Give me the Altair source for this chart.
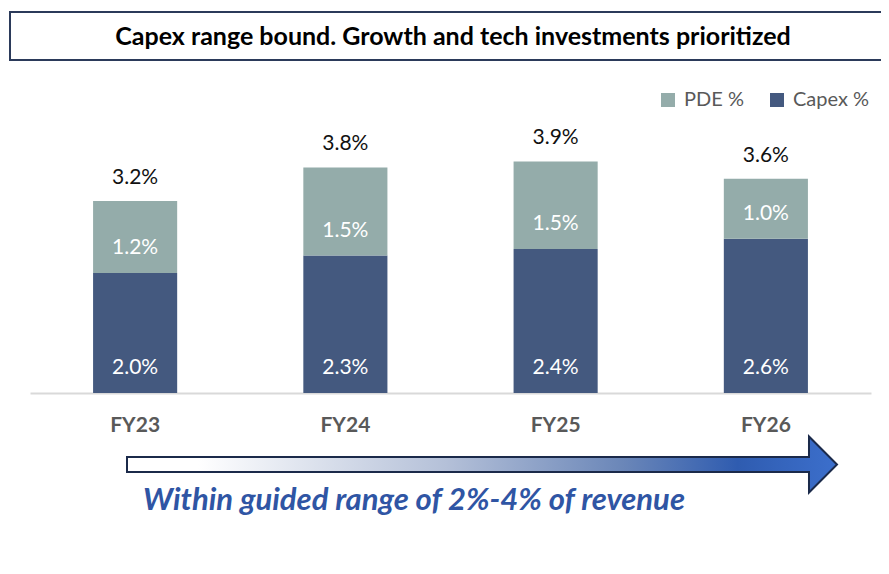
import altair as alt
import pandas as pd

years = ["FY23", "FY24", "FY25", "FY26"]
capex = [2.0, 2.29, 2.4, 2.57]
pde = [1.2, 1.47, 1.46, 1.0]
series = ["PDE %", "Capex %"]
colors = ["#94ACAA", "#44597F"]
title_text = "Capex range bound. Growth and tech investments prioritized"
arrow_text = "Within guided range of 2%-4% of revenue"

rows = []
for yr, c, p in zip(years, capex, pde):
    rows.append({"year": yr, "series": "Capex %", "base": 0.0, "top": c, "value": c})
    rows.append({"year": yr, "series": "PDE %", "base": c, "top": c + p, "value": p})
seg = pd.DataFrame(rows)
seg["label"] = seg["value"].map(lambda v: f"{v:.1f}%")
tot = pd.DataFrame({"year": years, "total": [c + p for c, p in zip(capex, pde)]})
tot["label"] = tot["total"].map(lambda v: f"{v:.1f}%")

FONT = "Lato"
W, H = 841, 300

x = alt.X(
    "year:N",
    sort=years,
    scale=alt.Scale(paddingInner=0.6, paddingOuter=0.3),
    axis=alt.Axis(
        title=None, ticks=False, domainColor="#D9D9D9", domainWidth=2,
        labelFont=FONT, labelFontSize=21, labelFontWeight="bold",
        labelColor="#595959", labelPadding=21, labelAngle=0,
    ),
)
yscale = alt.Scale(domain=[0, 5], nice=False)

bars = alt.Chart(seg).mark_bar().encode(
    x=x,
    y=alt.Y("base:Q", scale=yscale, axis=None),
    y2="top:Q",
    color=alt.Color(
        "series:N",
        scale=alt.Scale(domain=series, range=colors),
        legend=alt.Legend(
            title=None, orient="none", legendX=628, legendY=-3,
            direction="horizontal", symbolType="square", symbolSize=196,
            symbolStrokeWidth=0, labelFont=FONT, labelFontSize=20,
            labelColor="#595959", labelOffset=6, columnPadding=23,
        ),
    ),
)

seg_text = alt.Chart(seg).mark_text(
    color="white", baseline="middle", dy=-25, fontSize=21, font=FONT
).encode(x=x, y=alt.Y("base:Q", scale=yscale, axis=None), text="label:N")

tot_text = alt.Chart(tot).mark_text(
    color="#111111", baseline="middle", dy=-23, fontSize=21, font=FONT
).encode(x=x, y=alt.Y("total:Q", scale=yscale, axis=None), text="label:N")

tdf = pd.DataFrame({"t": [title_text]})
title_box = alt.Chart(tdf).mark_rect(
    fill="white", stroke="#2B3A5A", strokeWidth=2
).encode(x=alt.value(-20), x2=alt.value(854), y=alt.value(-81), y2=alt.value(-33))
title_txt = alt.Chart(tdf).mark_text(
    fontWeight="bold", fontSize=25, font=FONT, color="#000000", baseline="middle"
).encode(x=alt.value(423), y=alt.value(-56), text="t:N")

arrow_path = ("M -1 -0.0211 L 0.9211 -0.0211 L 0.9211 -0.0789 L 1 0 "
              "L 0.9211 0.0789 L 0.9211 0.0211 L -1 0.0211 Z")
grad = {
    "gradient": "linear", "x1": 0, "y1": 0, "x2": 1, "y2": 0,
    "stops": [
        {"offset": 0, "color": "#FFFFFF"},
        {"offset": 0.1, "color": "#FFFFFF"},
        {"offset": 0.45, "color": "#B4C0D8"},
        {"offset": 0.7, "color": "#6A86B8"},
        {"offset": 0.86, "color": "#2F5CB0"},
        {"offset": 1, "color": "#3C6FCC"},
    ],
}
adf = pd.DataFrame({"t": [arrow_text]})
arrow = alt.Chart(adf).mark_point(
    shape=arrow_path, size=504100, filled=True, fill=grad, opacity=1,
    stroke="#1B2A4A", strokeWidth=2, strokeOpacity=1, fillOpacity=1,
).encode(x=alt.value(452), y=alt.value(371.5))
arrow_txt = alt.Chart(adf).mark_text(
    fontStyle="italic", fontWeight="bold", fontSize=31, font=FONT,
    color="#2F55A4", baseline="middle",
).encode(x=alt.value(384), y=alt.value(408), text="t:N")

chart = alt.layer(
    title_box, title_txt, bars, seg_text, tot_text, arrow, arrow_txt
).properties(
    width=W, height=H,
    autosize=alt.AutoSizeParams(type="none"),
    padding={"left": 22, "top": 85, "right": 10, "bottom": 173},
).configure_view(stroke=None)

chart.save("out.html", embed_options={"renderer": "svg", "actions": False})
